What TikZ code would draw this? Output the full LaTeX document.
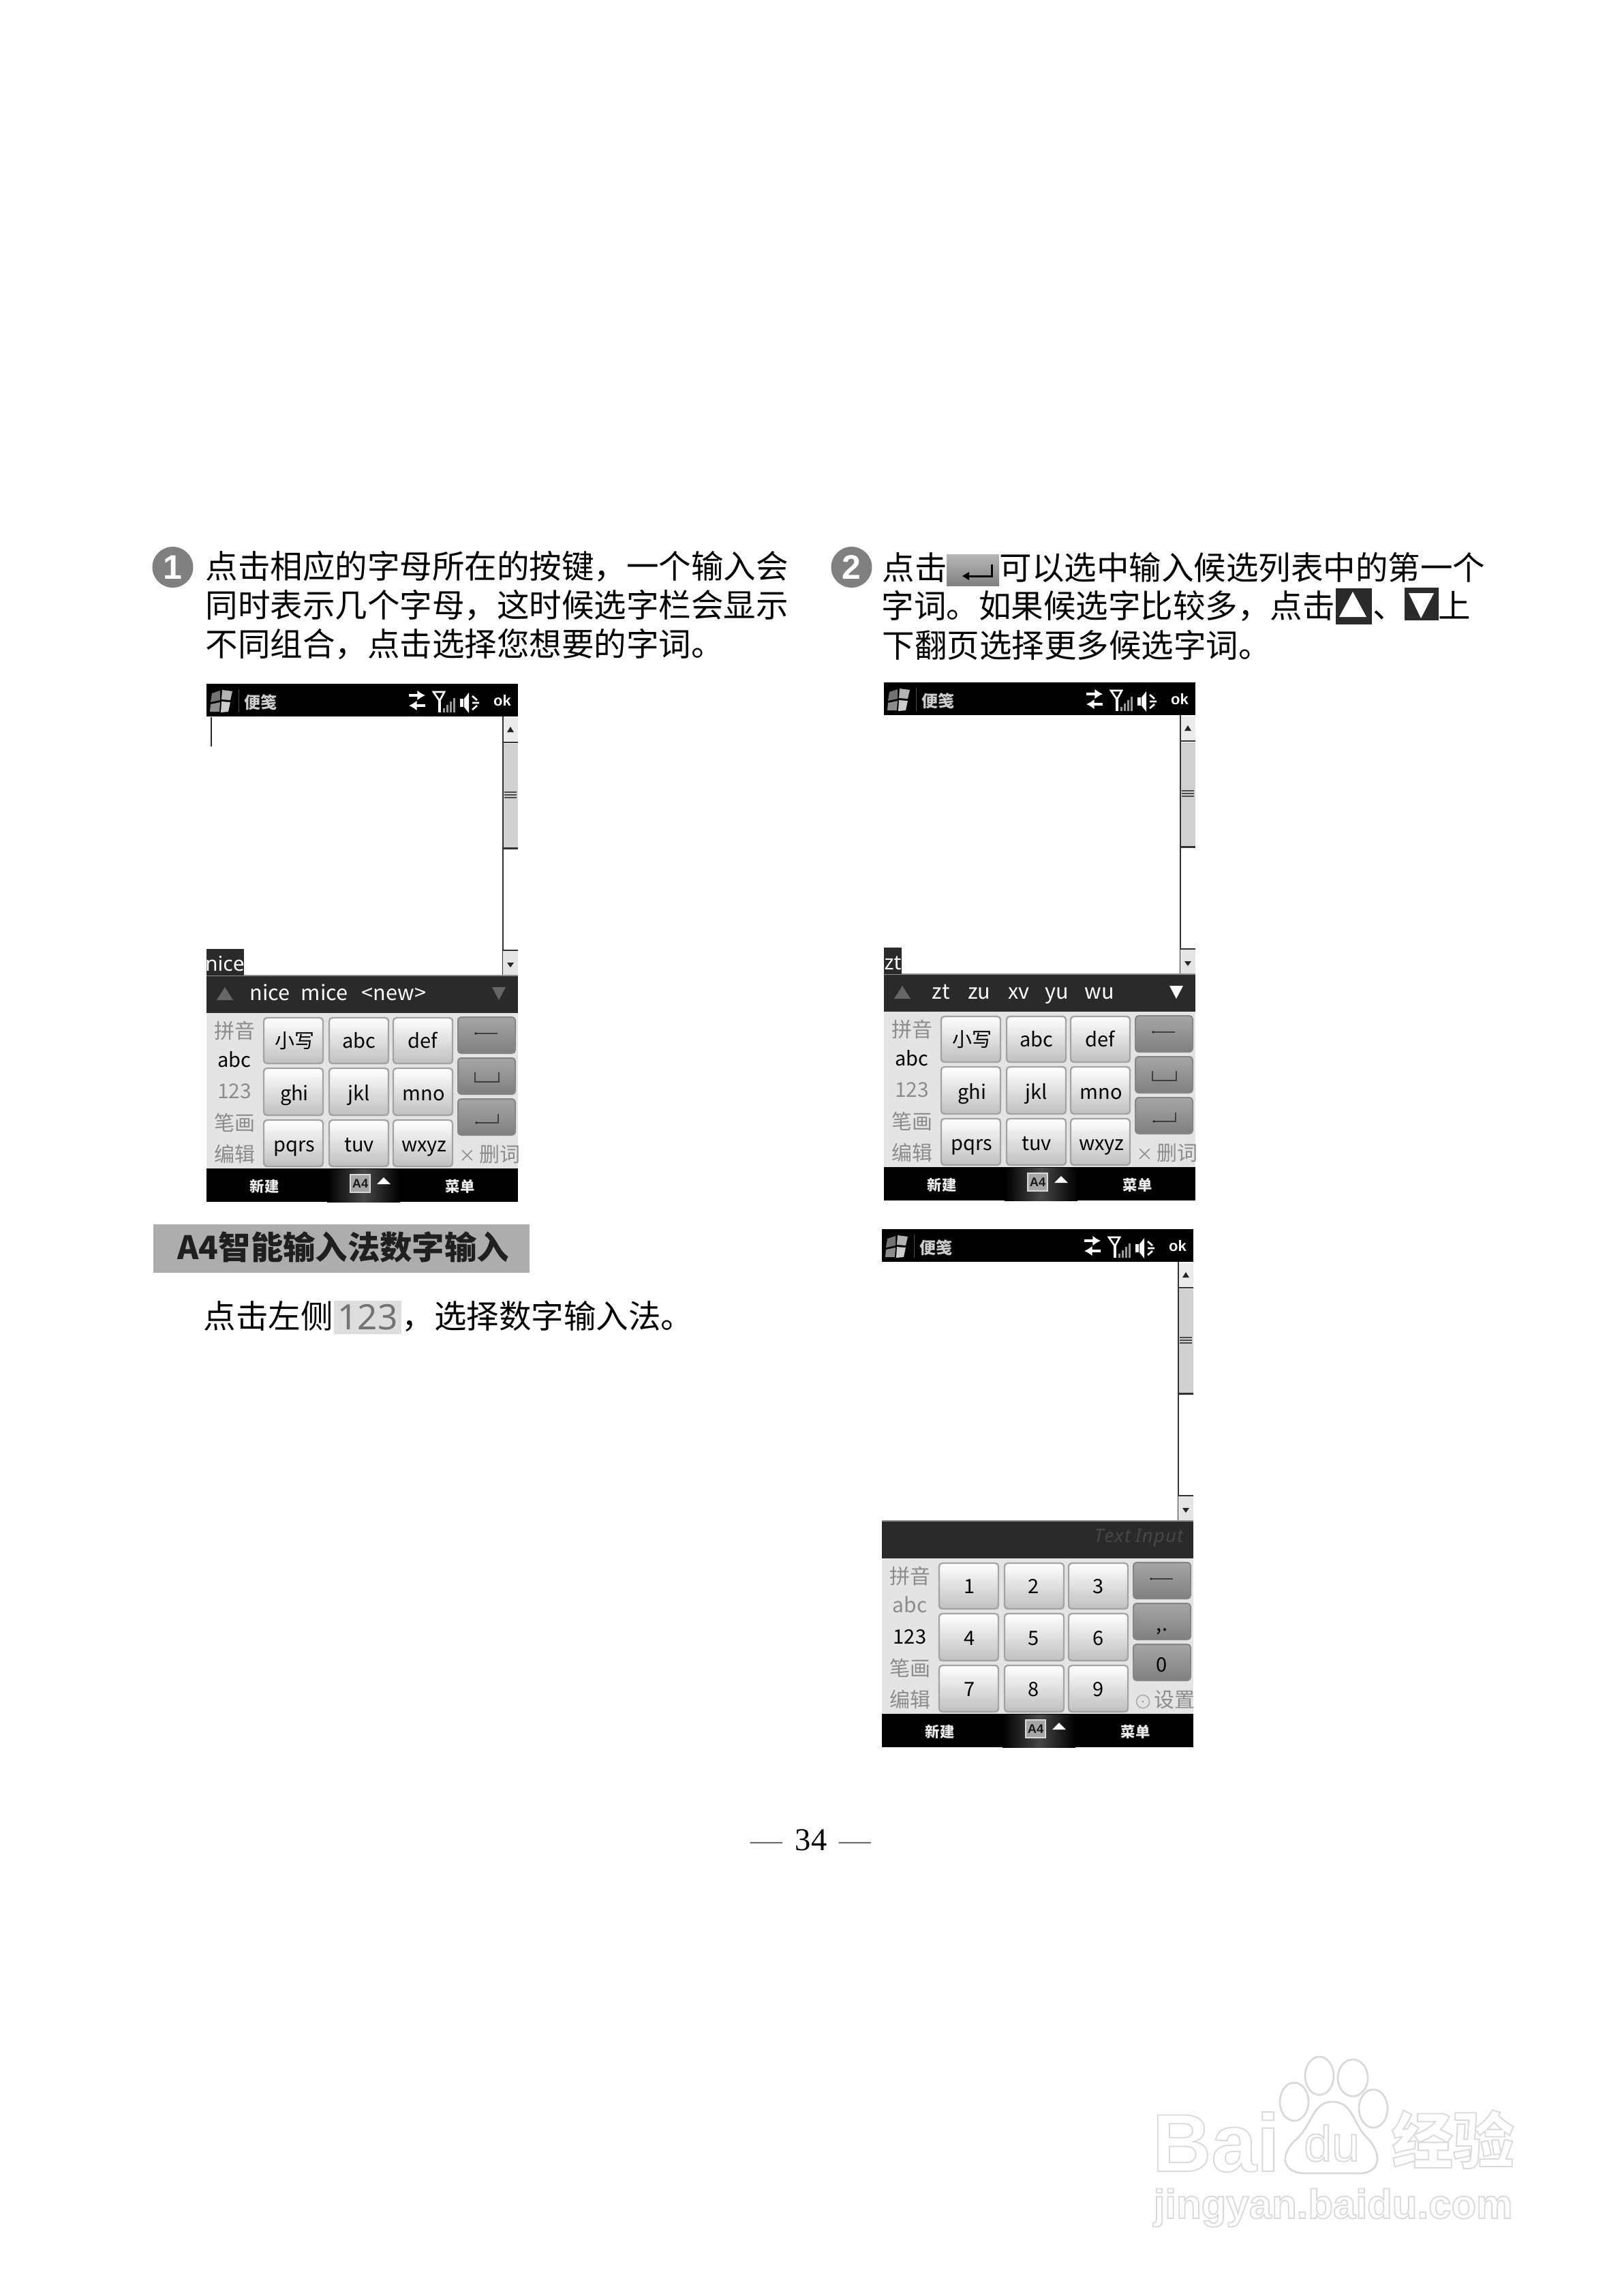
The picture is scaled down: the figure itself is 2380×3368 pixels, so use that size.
\documentclass[tikz,border=0pt]{standalone}
\usepackage{fontspec}
\setmainfont{Noto Sans}
\newfontfamily\cjk{Noto Sans CJK SC}
\newfontfamily\serifnum{Liberation Serif}
\newfontfamily\lsans{Liberation Sans}
\usetikzlibrary{arrows.meta}
\definecolor{barblack}{HTML}{2A2A2A}
\definecolor{kbbg}{HTML}{E4E4E4}
\definecolor{leftgray}{HTML}{8C8C8C}
\definecolor{bandgray}{HTML}{ADADAD}
\definecolor{wmline}{HTML}{D8D8D8}
\tikzset{
  bodytext/.style={anchor=base west,inner sep=0pt,font=\cjk\fontsize{14.25}{16}\selectfont},
  uilabel/.style={anchor=base,inner sep=0pt,font=\cjk\fontsize{8.7}{10}\selectfont,text=black},
  leftlabel/.style={uilabel,text=leftgray,font=\cjk\fontsize{9}{10}\selectfont},
  softlabel/.style={anchor=center,inner sep=0pt,text=white!92!black,font=\cjk\bfseries\fontsize{6.4}{7}\selectfont},
  softkey/.style={draw=#1,line width=0.7pt,rounded corners=1.4pt,top color=white,middle color=white!96!black,bottom color=black!25},
  softkey/.default={black!36},
  sidekey/.style={draw=black!48,line width=0.6pt,rounded corners=1.4pt,top color=black!35,middle color=black!28,bottom color=black!50},
  glyphline/.style={draw=black!75,line width=0.6pt},
  wmshape/.style={draw=wmline,line width=0.8pt,fill=white},
  numdot/.style={circle,fill=black!50,inner sep=0pt,minimum size=18pt,text=white,font=\lsans\bfseries\fontsize{15}{15}\selectfont}
}
\newcommand{\outlinetext}[1]{\special{pdf:code 0.85 G 1 Tr 0.55 w}#1\special{pdf:code 0 Tr 0 G}}
\newcommand{\phonechrome}{%
  \fill[white] (0,48) rectangle (457,428);
  % title bar
  \fill[black] (0,0) rectangle (457,48);
  \fill[black!55] (8,14) -- (20,10) -- (20,24) -- (6,27) -- cycle;
  \fill[black!30] (23,9) -- (38,11) -- (35,24) -- (22,23) -- cycle;
  \fill[black!45] (6,30) -- (20,27) -- (19,41) -- (5,41) -- cycle;
  \fill[black!20] (22,26) -- (35,27) -- (32,41) -- (21,42) -- cycle;
  \draw[black!70,line width=0.3pt] (47,8) -- (47,42);
  \node[anchor=center,inner sep=0pt,text=black!20,font=\cjk\bfseries\fontsize{7.2}{8}\selectfont] (title) at (79,27) {便笺};
  \draw[white,line width=1.3pt,-{Latex[length=3.5pt,width=4.5pt]}] (297,17) -- (321,17);
  \draw[white,line width=1.3pt,-{Latex[length=3.5pt,width=4.5pt]}] (321,32) -- (297,32);
  \draw[white,line width=0.8pt] (333,12) -- (349,12) -- (342,25) -- cycle;
  \draw[white,line width=1pt] (342,25) -- (342,42);
  \foreach \bx/\by in {347/36,352/31,357/26,362/21}{\fill[black!40] (\bx,\by) rectangle ++(3,{42-\by});}
  \fill[white] (372,22) rectangle (377,34);
  \fill[white] (378,22) -- (385,13) -- (385,43) -- (378,34) -- cycle;
  \draw[white,line width=0.8pt] (390,18) -- (397,24) (390,28) -- (400,28) (390,38) -- (397,32);
  \node[anchor=center,inner sep=0pt,text=white,font=\lsans\bfseries\fontsize{6.6}{7}\selectfont] (okbtn) at (434,25) {ok};
  % scroll bar
  \fill[black!8] (435,50) rectangle (457,86);
  \fill[black!18] (435,88) rectangle (457,241);
  \draw[black!80,line width=0.7pt] (435,86) -- (457,86) (435,241.5) -- (457,241.5);
  \draw[black!80,line width=0.7pt] (435,48) -- (435,427);
  \fill[black!85] (441,71) -- (446,63) -- (451,71) -- cycle;
  \foreach \ly in {159,163,167}{\draw[black!70,line width=0.5pt] (437,\ly) -- (455,\ly);}
  \fill[black!10] (435,391) rectangle (457,427);
  \draw[black!80,line width=0.7pt] (435,391) -- (457,391);
  \fill[black!85] (441,409) -- (451,409) -- (446,416) -- cycle;
  % candidate bar, keyboard, soft keys
  \fill[black!45] (0,427) rectangle (457,429);
  \fill[barblack] (0,428.5) rectangle (457,483);
  \fill[kbbg] (0,483) rectangle (457,711);
  \fill[black] (0,711) rectangle (457,760);
  \shade[left color=black,right color=black,middle color=black!72] (177,712) rectangle (284,760);
  \fill[black!35,draw=black!15,line width=0.5pt] (211,720) rectangle (240,746);
  \node[anchor=center,inner sep=0pt,text=black!90,font=\lsans\bfseries\fontsize{5.5}{6}\selectfont] (imeicon) at (225.5,733) {A4};
  \fill[white] (250,734) -- (260,724) -- (270,734) -- cycle;
  \node[softlabel] (newnote) at (85,737) {新建};
  \node[softlabel] (menu) at (372,737) {菜单};
  \foreach \kx in {84,180,274}{\foreach \ky in {490,564,640}{
    \path[softkey] (\kx,\ky) rectangle ++(87,{\ky==490?67:(\ky==564?69:68)});}}
  \foreach \ky in {489,549,609}{\path[sidekey] (369,\ky) rectangle ++(84,53);}
  \draw[glyphline] (395,513) -- (427,513);
  \fill[black!85] (395,513) circle (1.8);
  \node[leftlabel] (lpinyin) at (41,520) {拼音};
  \node[leftlabel] (lstroke) at (41,655) {笔画};
  \node[leftlabel] (ledit) at (41,701) {编辑};
}
\newcommand{\alphakeys}{%
  \foreach \cx/\by/\t in {129/534/小写,224/534/abc,317/534/def,129/611/ghi,224/611/jkl,319/611/mno,129/686/pqrs,224/686/tuv,319/686/wxyz}{\node[uilabel] at (\cx,\by) {\t};}
  \node[uilabel] (labc) at (41,562) {abc};
  \node[leftlabel] (lnum) at (41,608) {123};
  \draw[glyphline] (394,570) -- (394,584) -- (429,584) -- (429,570);
  \draw[glyphline] (396,644) -- (428,644) -- (428,631);
  \fill[black!85] (396,644) circle (1.8);
  \begin{scope}
    \clip (0,483) rectangle (457,711);
    \node[leftlabel,anchor=base west] (delword) at (370,701) {{\fontsize{7.5}{9}\selectfont ×}\,删词};
  \end{scope}
}
\newcommand{\numkeys}{%
  \foreach \cx/\by/\t in {129/534/1,223/534/2,318/534/3,129/610/4,223/610/5,318/610/6,129/685/7,223/685/8,318/685/9}{\node[uilabel] at (\cx,\by) {\t};}
  \node[leftlabel] (labc) at (41,562) {abc};
  \node[uilabel] (lnum) at (41,608) {123};
  \node[uilabel] (comma) at (411,589) {,.};
  \node[uilabel] (zero) at (411,649) {0};
  \begin{scope}
    \clip (0,483) rectangle (457,711);
    \node[leftlabel,anchor=base west] (settings) at (399,701) {设置};
    \draw[leftgray!70,line width=0.5pt] (383,693) circle (9.5);
    \fill[leftgray] (383,693) circle (1.4);
  \end{scope}
}
\begin{document}
\begin{tikzpicture}[x=0.3pt,y=-0.3pt]
\useasboundingbox (0,0) rectangle (2380,3368);
\fill[white] (0,0) rectangle (2380,3368);

% left instruction
\node[numdot] (num1) at (253.5,832) {1};
\node[bodytext] (la) at (301,848) {点击相应的字母所在的按键，一个输入会};
\node[bodytext] (lb) at (301,905) {同时表示几个字母，这时候选字栏会显示};
\node[bodytext] (lc) at (301,962) {不同组合，点击选择您想要的字词。};

% right instruction
\node[numdot] (num2) at (1249.5,832) {2};
\node[bodytext] (ra1) at (1294,850) {点击};
\shade[top color=black!28,bottom color=black!50] (1389,813) rectangle (1466,859);
\draw[black,line width=0.9pt] (1418,845) -- (1455,845) -- (1455,828);
\fill[black] (1412,845) -- (1422,839) -- (1422,851) -- cycle;
\node[bodytext] (ra2) at (1466,850) {可以选中输入候选列表中的第一个};
\node[bodytext] (rb1) at (1293,906) {字词。如果候选字比较多，点击};
\fill[barblack] (1960,863) rectangle (2013,916);
\fill[white] (1965,905) -- (1985,868) -- (2005,905) -- cycle;
\node[bodytext] (rb2) at (2014,906) {、};
\fill[barblack] (2061,862) rectangle (2111,910);
\fill[white] (2067,870) -- (2104,870) -- (2085,907) -- cycle;
\node[bodytext] (rb3) at (2110,906) {上};
\node[bodytext] (rc) at (1294,964) {下翻页选择更多候选字词。};

% section band
\fill[bandgray] (225,1796) rectangle (777,1867);
\node[anchor=base west,inner sep=0pt,text=black!88,font=\cjk\bfseries\fontsize{14.2}{16}\selectfont] (band) at (260,1847) {A4智能输入法数字输入};
\node[bodytext] (sa) at (298,1948) {点击左侧};
\fill[black!13] (490,1908) rectangle (589,1957);
\node[anchor=base,inner sep=0pt,text=black!55,font=\fontsize{15.4}{17}\selectfont] (sb) at (539.5,1950) {123};
\node[bodytext] (sc) at (589,1948) {，选择数字输入法。};

% phone 1
\begin{scope}[shift={(303,1003)}]
  \phonechrome
  \draw[black!85,line width=0.5pt] (7,49) -- (7,92);
  \fill[barblack] (0,389) rectangle (55,428);
  \node[anchor=base,inner sep=0pt,text=white,font=\fontsize{9}{10}\selectfont] (sel1) at (27,421) {nice};
  \fill[black!60] (15,464) -- (27,445) -- (39,464) -- cycle;
  \fill[black!60] (419,445) -- (439,445) -- (429,464) -- cycle;
  \foreach \cx/\t in {93/nice,173/mice,275/{<new>}}{\node[uilabel,text=white,font=\cjk\fontsize{9.2}{10}\selectfont] at (\cx,464) {\t};}
  \alphakeys
\end{scope}

% phone 2
\begin{scope}[shift={(1297,1001)}]
  \phonechrome
  \fill[barblack] (0,389) rectangle (26,428);
  \node[anchor=base,inner sep=0pt,text=white,font=\fontsize{9}{10}\selectfont] (sel2) at (13,421) {zt};
  \fill[black!60] (15,464) -- (27,445) -- (39,464) -- cycle;
  \fill[white] (419,445) -- (439,445) -- (429,464) -- cycle;
  \foreach \cx/\t in {84/zt,140/zu,198/xv,254/yu,316/wu}{\node[uilabel,text=white,font=\cjk\fontsize{9.2}{10}\selectfont] at (\cx,464) {\t};}
  \alphakeys
\end{scope}

% phone 3
\begin{scope}[shift={(1294,1803)}]
  \phonechrome
  \node[anchor=center,inner sep=0pt,text=black!72,font=\itshape\fontsize{8.2}{9}\selectfont] (textinput) at (377,453) {T\hspace{0.4pt}e\hspace{0.4pt}x\hspace{0.4pt}t\hspace{2pt}I\hspace{0.4pt}n\hspace{0.4pt}p\hspace{0.4pt}u\hspace{0.4pt}t};
  \numkeys
\end{scope}

% page number
\node[anchor=base,inner sep=0pt,font=\serifnum\fontsize{14}{16}\selectfont] (page) at (1190,2714) {\textcolor{black!55}{—}\hspace{5.5pt}34\hspace{5.5pt}\textcolor{black!55}{—}};

% watermark
\path[wmshape] (1899,3083) ellipse [x radius=21,y radius=28];
\path[wmshape] (1936,3045) ellipse [x radius=21,y radius=28];
\path[wmshape] (1985,3048) ellipse [x radius=22,y radius=27];
\path[wmshape] (2015,3093) ellipse [x radius=21,y radius=28];
\path[wmshape] (1955,3083) .. controls (1925,3083) and (1925,3120) .. (1900,3140) .. controls (1875,3165) and (1885,3188) .. (1915,3188) .. controls (1935,3188) and (1975,3188) .. (1995,3188) .. controls (2025,3188) and (2030,3160) .. (2005,3135) .. controls (1985,3115) and (1985,3083) .. (1955,3083) -- cycle;
\node[anchor=base west,inner sep=0pt,font=\lsans\bfseries\fontsize{36}{40}\selectfont] (wma) at (1690,3185) {\outlinetext{Bai}};
\node[anchor=base,inner sep=0pt,font=\lsans\fontsize{22}{24}\selectfont] (wmb) at (1954,3170) {\outlinetext{du}};
\node[anchor=center,inner sep=0pt,font=\cjk\bfseries\fontsize{27}{30}\selectfont] (wmc) at (2132,3138) {\outlinetext{经验}};
\node[anchor=base west,inner sep=0pt,font=\lsans\bfseries\fontsize{18}{22}\selectfont] (wmd) at (1692,3254) {\outlinetext{jingyan.baidu.com}};
\end{tikzpicture}
\end{document}
